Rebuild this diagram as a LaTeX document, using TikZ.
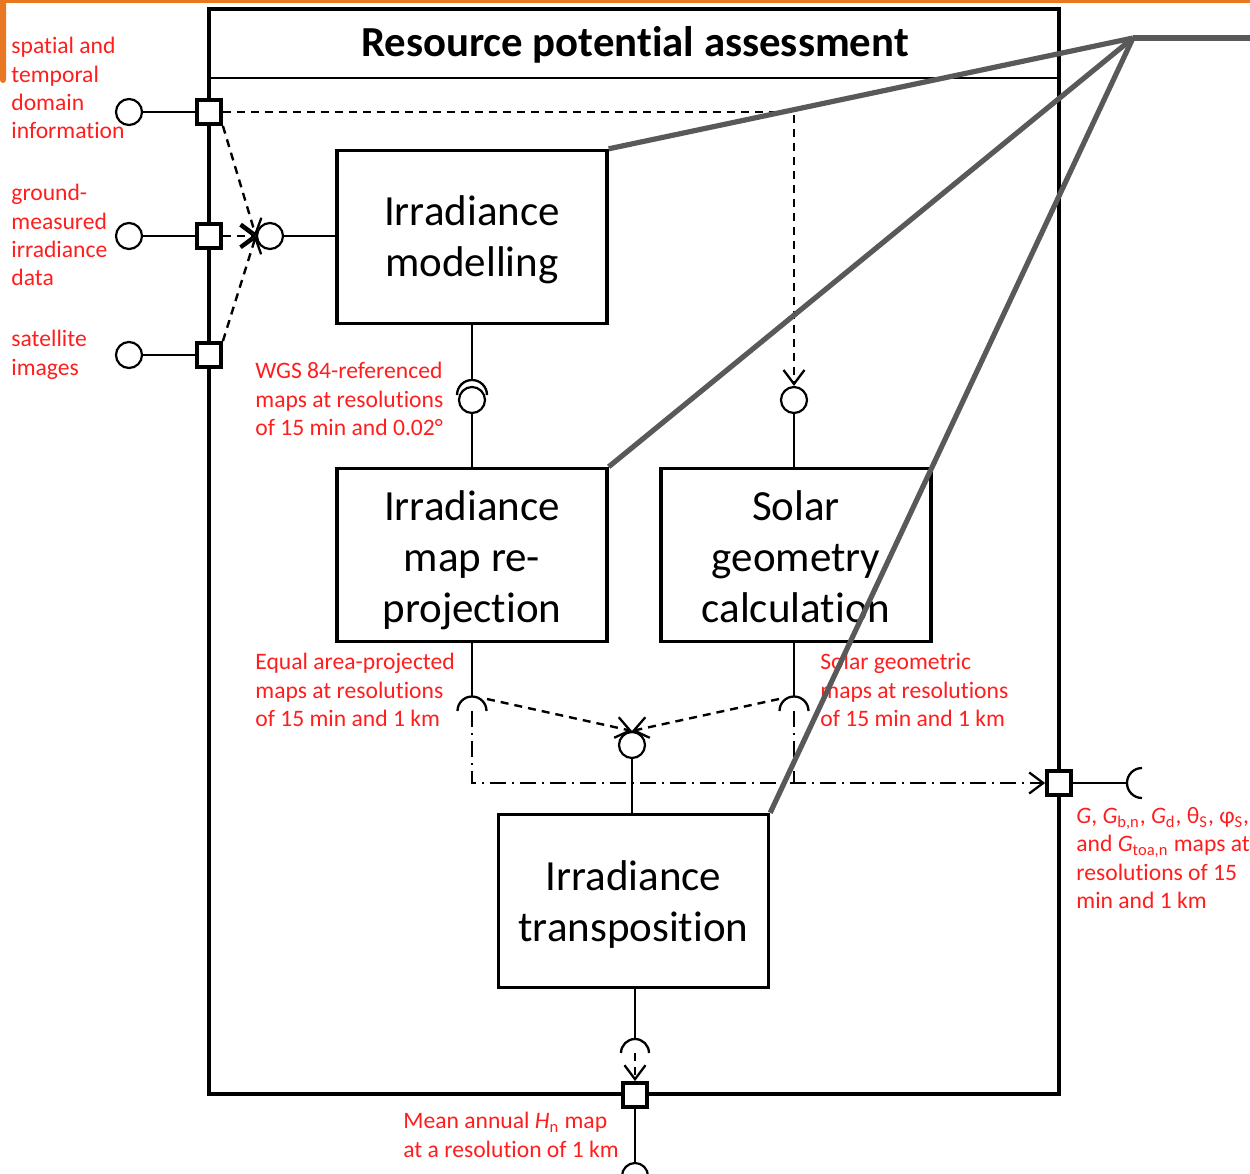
\documentclass[tikz,border=0pt]{standalone}
\usepackage{fontspec}
\setmainfont{Carlito}[Ligatures={NoCommon,NoRare,NoContextual,NoDiscretionary}]
\usetikzlibrary{arrows.meta}
\definecolor{lblred}{RGB}{255,30,30}
\definecolor{orng}{RGB}{232,120,34}
\definecolor{callout}{RGB}{89,89,89}
\newcommand{\topstrut}[1]{\rule{0pt}{#1}}
\begin{document}
\begin{tikzpicture}[x=0.5pt,y=-0.5pt,
  frame/.style={line width=1.7pt},
  procbox/.style={draw, line width=1.7pt, minimum width=135pt, minimum height=86.5pt, align=center, font=\fontsize{21.5}{25.5}\selectfont, inner sep=0pt},
  port/.style={draw, line width=1.9pt, fill=white, minimum size=12pt, inner sep=0pt},
  ball/.style={circle, draw, line width=1.1pt, fill=white, minimum size=13pt, inner sep=0pt},
  conn/.style={line width=1.15pt},
  flow/.style={line width=1.2pt, dash pattern=on 4pt off 3pt},
  flowdd/.style={line width=1.2pt, dash pattern=on 8pt off 3pt on 1pt off 3pt},
  tip/.style={-{Straight Barb[length=7pt,width=10.5pt,line width=1.15pt]}},
  lab/.style={text=lblred, font=\fontsize{11.8}{14.2}\selectfont, align=left, anchor=north west, inner sep=0pt},
  zoomline/.style={draw=callout, line width=2.6pt}
]
\useasboundingbox (0,0) rectangle (1250,1174);
\clip (0,0) rectangle (1250,1174);
% orange page decoration
\fill[orng] (0,0) rectangle (1250,3);
\fill[orng, rounded corners=1.5pt] (0,-10) rectangle (6,83);
% frame
\draw[frame] (209,9) rectangle (1059,1094);
\draw[line width=1.1pt] (209,78) -- (1059,78);
\node[font=\fontsize{21.4}{25}\selectfont\bfseries] (title) at (635,45) {Resource potential assessment};
% process boxes
\node[procbox] (model) at (472,237) {\topstrut{18pt}Irradiance\\modelling};
\node[procbox] (reproj) at (472,555) {\topstrut{20pt}Irradiance\\map re-\\projection};
\node[procbox] (solar) at (796,555) {\topstrut{16.5pt}Solar\\geometry\\calculation};
\node[procbox] (transp) at (633.5,901) {\topstrut{18pt}Irradiance\\transposition};
% ports
\node[port] (pA) at (209,112) {};
\node[port] (pB) at (209,236) {};
\node[port] (pC) at (209,355) {};
\node[port] (pOut) at (1059,783) {};
\node[port] (pBot) at (635,1095) {};
% lollipops
\node[ball] (bA) at (129,112) {};
\node[ball] (bB) at (129,236) {};
\node[ball] (bC) at (129,355) {};
\node[ball] (bBot) at (635,1176) {};
\node[ball] (iModel) at (270,236) {};
\node[ball] (iReproj) at (472,400) {};
\node[ball] (iSolar) at (794,400) {};
\node[ball] (iTransp) at (632,745) {};
\coordinate (skA) at (472,395);
\coordinate (skB) at (472,711);
\coordinate (skC) at (794,711);
\coordinate (skOut) at (1142,783);
\coordinate (skBot) at (635,1053);
% external connectors
\draw[conn] (bA) -- (pA);
\draw[conn] (bB) -- (pB);
\draw[conn] (bC) -- (pC);
\draw[conn] (pBot.south) -- (bBot.north);
\draw[conn] (pOut.east) -- ([xshift=-7.5pt]skOut);
\draw[conn] ([yshift=7.5pt]skOut) arc[start angle=90, end angle=270, radius=7.5pt];
% inputs to modelling
\draw[conn] (iModel.east) -- (iModel -| model.west);
\draw[flow,tip] (pA.south east) -- (iModel.west);
\draw[flow,tip] (pB.east) -- (iModel.west);
\draw[flow,tip] (pC.north east) -- (iModel.west);
% domain info to solar geometry
\draw[flow,tip] (pA.east) -- (iSolar |- pA) -- (iSolar.north);
\draw[conn] (iSolar.south) -- (iSolar.south |- solar.north);
% modelling -> reprojection
\draw[conn] (model.south) -- ([yshift=7.5pt]skA);
\draw[conn] ([xshift=7.5pt]skA) arc[start angle=0, end angle=180, radius=7.5pt];
\draw[conn] (iReproj.south) -- (reproj.north);
% reprojection / solar -> transposition
\draw[conn] (reproj.south) -- ([yshift=7.25pt]skB);
\draw[conn] ([xshift=7.25pt]skB) arc[start angle=0, end angle=180, radius=7.25pt];
\draw[conn] (skC |- solar.south) -- ([yshift=7.25pt]skC);
\draw[conn] ([xshift=7.25pt]skC) arc[start angle=0, end angle=180, radius=7.25pt];
\draw[flow,tip] ([shift={(7.5pt,6pt)}]skB) -- (iTransp.north);
\draw[flow,tip] ([shift={(-7.5pt,6pt)}]skC) -- (iTransp.north);
\draw[conn] (iTransp.south) -- (iTransp.south |- transp.north);
\draw[flowdd,tip] (skB) -- (skB |- pOut) -- (pOut.west);
\draw[flowdd] (skC) -- (skC |- pOut);
% transposition -> output
\draw[conn] (skBot |- transp.south) -- ([yshift=7pt]skBot);
\draw[conn] ([xshift=7pt]skBot) arc[start angle=0, end angle=180, radius=7pt];
\draw[flow,tip] (skBot) -- (pBot.north);
% labels
\node[lab] (lSpatial) at (11,37) {spatial and\\temporal\\domain\\information};
\node[lab] (lGround) at (11,184) {ground-\\measured\\irradiance\\data};
\node[lab] (lSat) at (11,330) {satellite\\images};
\node[lab] (lWGS) at (255,362) {WGS 84-referenced\\maps at resolutions\\of 15 min and 0.02°};
\node[lab] (lEqual) at (255,653) {Equal area-projected\\maps at resolutions\\of 15 min and 1 km};
\node[lab] (lSolar) at (820,653) {Solar geometric\\maps at resolutions\\of 15 min and 1 km};
\node[lab] (lOut) at (1076,807) {\textit{G}, \textit{G}\textsubscript{b,n}, \textit{G}\textsubscript{d}, θ\textsubscript{S}, φ\textsubscript{S},\\and \textit{G}\textsubscript{toa,n} maps at\\resolutions of 15\\min and 1 km};
\node[lab] (lMean) at (403,1112) {Mean annual \textit{H}\textsubscript{n} map\\at a resolution of 1 km};
% callout lines
\coordinate (apex) at (1133,38);
\coordinate (calloutEnd) at (1250,38);
\draw[zoomline] (apex) -- (calloutEnd);
\draw[zoomline] (apex) -- (model.north east);
\draw[zoomline] (apex) -- (reproj.north east);
\draw[zoomline] (apex) -- (transp.north east);
\end{tikzpicture}
\end{document}
